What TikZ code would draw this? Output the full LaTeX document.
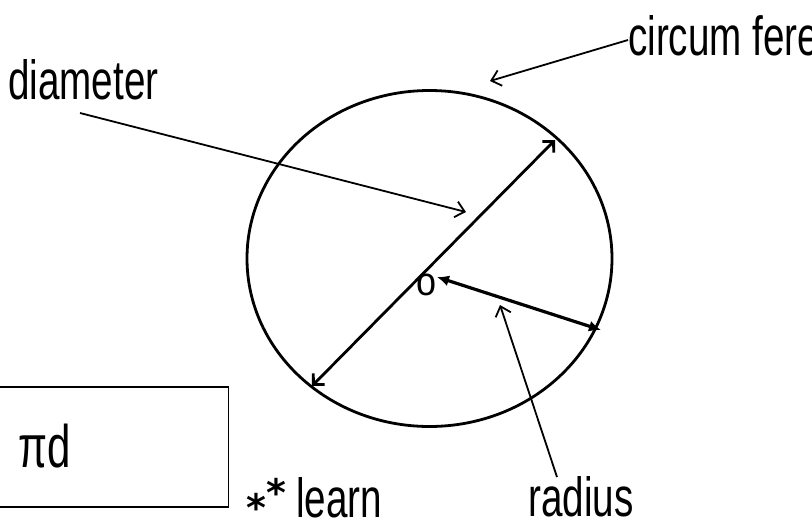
\documentclass[tikz,border=0pt]{standalone}
\usepackage{fontspec}
\setmainfont{Liberation Sans}
\newfontfamily\symfont{DejaVu Sans}
\usetikzlibrary{arrows.meta}
\begin{document}
\begin{tikzpicture}[x=1pt,y=-1pt,
  lbl/.style={font=\fontsize{46}{48}\selectfont, inner sep=0pt, anchor=west, xscale=0.84, yscale=1.2},
  thin arrow/.style={line width=1.8pt, -{Straight Barb[length=9pt,width=16pt,line width=1.8pt]}},
  diam arrow/.style={line width=2.8pt, {Straight Barb[length=8pt,width=16pt,line width=2.8pt]}-{Straight Barb[length=8pt,width=16pt,line width=2.8pt]}},
  rad arrow/.style={line width=3.2pt, {Latex[length=12pt,width=11pt]}-{Latex[length=12pt,width=11pt]}}]
\useasboundingbox (0,0) rectangle (812,528);
\clip (0,0) rectangle (812,528);
% circle
\coordinate (c) at (429.5,258.5);
\draw[line width=2.8pt] (c) ellipse [x radius=182.5pt, y radius=168pt];
% diameter
\coordinate (d1) at (312,386);
\coordinate (d2) at (555,140);
\draw[diam arrow] (d1) -- (d2);
% radius
\coordinate (r1) at (437,277);
\coordinate (r2) at (601,330);
\draw[rad arrow] (r1) -- (r2);
\node[font=\fontsize{40}{40}\selectfont, inner sep=0pt, xscale=0.9] (o) at (427,285) {o};
% labels
\node[lbl] (diam) at (8,80) {diameter};
\coordinate (diamS) at (80,113);
\coordinate (diamT) at (466,212);
\draw[thin arrow] (diamS) -- (diamT);
\node[lbl] (circ) at (628,36) {circum ference};
\coordinate (circS) at (628,40);
\coordinate (circT) at (490,81);
\draw[thin arrow] (circS) -- (circT);
\node[lbl] (rad) at (528,497) {radius};
\coordinate (radS) at (557,477);
\coordinate (radT) at (500,305);
\draw[thin arrow] (radS) -- (radT);
% box
\node[draw, line width=1.5pt, minimum width=229pt, minimum height=120pt, inner sep=0pt] (box) at (114,447) {};
\node[lbl, font=\fontsize{50}{50}\selectfont] (pd) at (18,446) {πd};
% learn
\node[lbl] (learn) at (296,498) {learn};
\node[font=\symfont\bfseries\fontsize{38}{38}\selectfont, inner sep=0pt, anchor=west] (stars) at (246,500) {\raisebox{-0.2em}{*}\raisebox{0.2em}{*}};
\end{tikzpicture}
\end{document}
